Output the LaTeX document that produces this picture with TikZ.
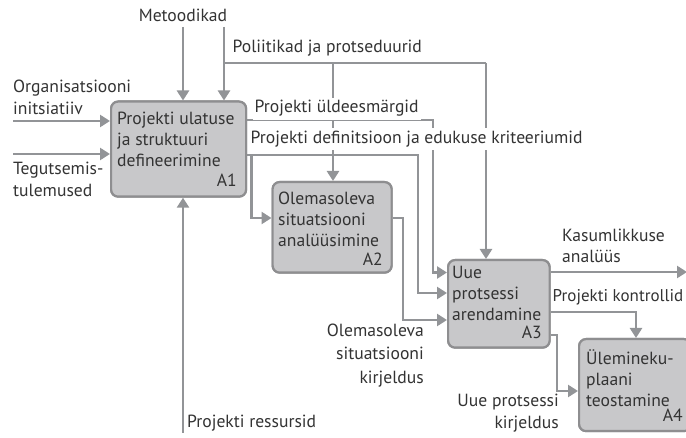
\documentclass[tikz,border=0pt]{standalone}
\usepackage{fontspec}
\setmainfont{PT Sans}
\usetikzlibrary{arrows.meta,calc}
\definecolor{boxfill}{HTML}{C8C8CA}
\definecolor{boxedge}{HTML}{8E8E90}
\definecolor{flowgray}{HTML}{929497}
\definecolor{inkgray}{HTML}{333333}
% multi-line text aligned on the baseline of its first line
\newcommand\stackL[1]{\begin{tabular}[t]{@{}l@{}}#1\end{tabular}}
\newcommand\stackR[1]{\begin{tabular}[t]{@{}r@{}}#1\end{tabular}}
\tikzset{
  actbox/.style={draw=boxedge, fill=boxfill, line width=2.2pt, rounded corners=7pt,
    anchor=north west, inner sep=0pt},
  flow/.style={draw=flowgray, line width=2.8pt,
    -{Triangle[length=10pt,width=12pt]}},
  plainflow/.style={draw=flowgray, line width=2.8pt},
  lbl/.style={text=inkgray, font=\fontsize{17.6}{21.5}\selectfont, inner sep=0pt},
  boxtxt/.style={lbl, font=\fontsize{17.6}{21}\selectfont, anchor=base west},
  boxnum/.style={lbl, anchor=base east},
  cover/.style={lbl, fill=white, inner ysep=3pt, inner xsep=2pt}
}
\begin{document}
\begin{tikzpicture}[x=1pt, y=-1pt]
\useasboundingbox (0,0) rectangle (686,438);

% activity boxes
\node[actbox, minimum width=135pt, minimum height=95pt] (a1) at (110,100.5) {};
\node[actbox, minimum width=119pt, minimum height=90.5pt] (a2) at (271.5,181) {};
\node[actbox, minimum width=101.5pt, minimum height=87.5pt] (a3) at (447,259) {};
\node[actbox, minimum width=112pt, minimum height=92pt] (a4) at (578,338) {};

% free ends and bends
\coordinate (metTop) at (183,27);
\coordinate (polTop) at (224,27);
\coordinate (polBar) at (224,63);
\coordinate (polA2) at (333,63);
\coordinate (polA3) at (486,63);
\coordinate (orgEnd) at (13,121);
\coordinate (tegEnd) at (13,154);
\coordinate (resEnd) at (183,433);
\coordinate (yldBend) at (433,120);
\coordinate (defBend) at (418,155);
\coordinate (defSplit) at (251.5,155);
\coordinate (olBend) at (403,218);
\coordinate (kasEnd) at (687,272);
\coordinate (konBend) at (636,312);
\coordinate (uueBend) at (557,335);

% controls from above
\draw[flow] (metTop) -- (metTop |- a1.north);
\draw[flow] (polTop) -- (polTop |- a1.north);
\draw[plainflow] (polBar) -- (polA3);
\draw[flow] (polA2) -- (polA2 |- a2.north);
\draw[flow] (polA3) -- (polA3 |- a3.north);

% inputs and mechanism of A1
\draw[flow] (orgEnd) -- (orgEnd -| a1.west);
\draw[flow] (tegEnd) -- (tegEnd -| a1.west);
\draw[flow] (resEnd) -- (resEnd |- a1.south);

% outputs of A1
\draw[flow] (yldBend -| a1.east) -- (yldBend) -- ($(yldBend)+(0,152.5)$) -- (a3.west |- 0,272.5);
\draw[flow] (defBend -| a1.east) -- (defBend) -- ($(defBend)+(0,138)$) -- (a3.west |- 0,293);
\draw[flow] (defSplit) -- ++(0,63) -- (a2.west |- 0,218);

% output of A2
\draw[flow] (olBend -| a2.east) -- (olBend) -- ($(olBend)+(0,102)$) -- (a3.west |- 0,320);

% outputs of A3
\draw[flow] (kasEnd -| a3.east) -- (kasEnd);
\draw[flow] (konBend -| a3.east) -- (konBend) -- (konBend |- a4.north);
\draw[flow] (uueBend -| a3.east) -- (uueBend) -- ($(uueBend)+(0,56)$) -- (a4.west |- 0,391);

% boxes again, above the line ends
\node[actbox, minimum width=135pt, minimum height=95pt] at (110,100.5) {};
\node[actbox, minimum width=119pt, minimum height=90.5pt] at (271.5,181) {};
\node[actbox, minimum width=101.5pt, minimum height=87.5pt] at (447,259) {};
\node[actbox, minimum width=112pt, minimum height=92pt] at (578,338) {};

% box texts
\node[boxtxt] (t1) at (117,124.5) {\stackL{Projekti ulatuse\\ja struktuuri\\defineerimine}};
\node[boxnum] (n1) at (237,187) {A1};
\node[boxtxt] (t2) at (278,204.5) {\stackL{Olemasoleva\\situatsiooni\\analüüsimine}};
\node[boxnum] (n2) at (383,266) {A2};
\node[boxtxt] (t3) at (452,278.5) {\stackL{Uue\\protsessi\\arendamine}};
\node[boxnum] (n3) at (542,339) {A3};
\node[boxtxt] (t4) at (586,365) {\stackL{Ülemineku-\\plaani\\teostamine}};
\node[boxnum] (n4) at (683,422) {A4};

% flow labels
\node[lbl, anchor=base] (lmet) at (183,22) {Metoodikad};
\node[lbl, anchor=base west] (lpol) at (232.5,53) {Poliitikad ja protseduurid};
\node[lbl, anchor=base west] (lorg) at (13,93) {\stackL{Organisatsiooni\\initsiatiiv}};
\node[lbl, anchor=base west] (lteg) at (13,175) {\stackL{Tegutsemis-\\tulemused}};
\node[cover, anchor=base west] (lyld) at (252.5,113) {Projekti üldeesmärgid};
\node[cover, anchor=base west] (ldef) at (248.5,143.5) {Projekti definitsioon ja edukuse kriteeriumid};
\node[lbl, anchor=base west] (lkas) at (562,241.5) {\stackL{Kasumlikkuse\\analüüs}};
\node[lbl, font=\fontsize{17}{21}\selectfont, anchor=base west] (lkon) at (552.5,302) {Projekti kontrollid};
\node[lbl, font=\fontsize{17.6}{23.5}\selectfont, anchor=base east] (lol) at (424,336.5)
  {\stackR{Olemasoleva\\situatsiooni\\kirjeldus}};
\node[lbl, anchor=base east] (luue) at (559,407) {\stackR{Uue protsessi\\kirjeldus}};
\node[lbl, anchor=base west] (lres) at (187,428) {Projekti ressursid};
\end{tikzpicture}
\end{document}
